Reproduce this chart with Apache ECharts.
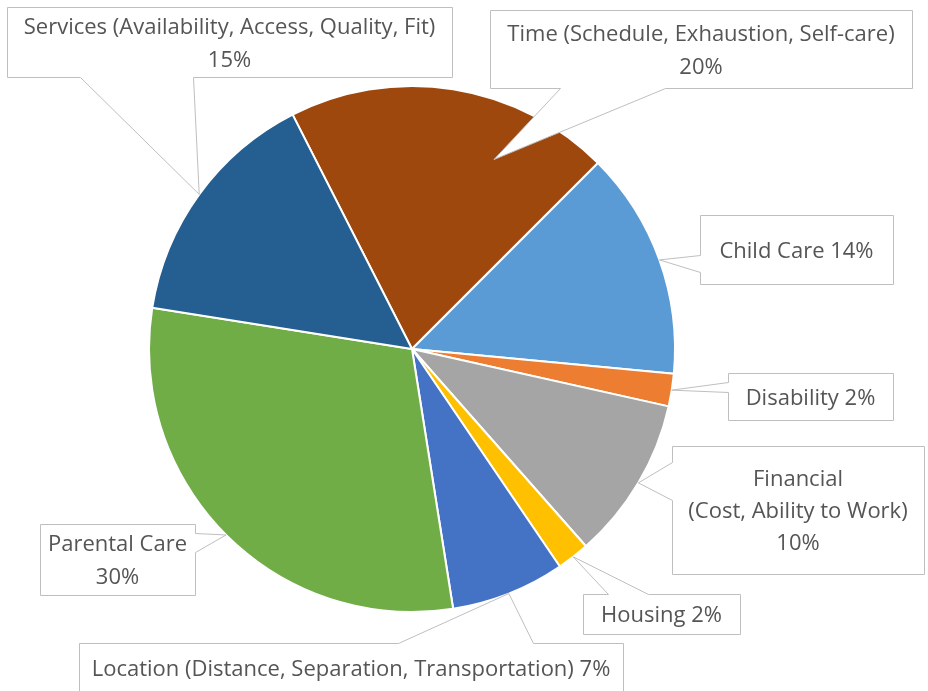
<!DOCTYPE html>
<html>
<head>
<meta charset="utf-8">
<script src="https://cdn.jsdelivr.net/npm/echarts@6/dist/echarts.min.js"></script>
<style>
  html, body { margin: 0; padding: 0; background: #ffffff; }
  #chart { width: 928px; height: 691px; }
</style>
</head>
<body>
<div id="chart"></div>
<script>
// Barriers reported, clockwise from the top of the pie
const categories = [
  'Time (Schedule, Exhaustion, Self-care)',
  'Child Care',
  'Disability',
  'Financial (Cost, Ability to Work)',
  'Housing',
  'Location (Distance, Separation, Transportation)',
  'Parental Care',
  'Services (Availability, Access, Quality, Fit)'
];
// Share of responses, percent
const shares = [20, 14, 2, 10, 2, 7, 30, 15];
const sliceColors = ['#9E480E', '#5B9BD5', '#ED7D31', '#A5A5A5', '#FFC000', '#4472C4', '#70AD47', '#255E91'];

// Callout layout: box [left, top, right, bottom], side that carries the pointer,
// pointer base span along that side, and where the tip sits inside the slice
// (fraction of the slice's sweep, fraction of the radius).
const callouts = [
  { box: [490, 10, 912, 88],   side: 'bottom', base: [560, 665], along: 0.70, depth: 0.785, fmt: 'stack',  lh: 33 },
  { box: [700, 215, 893, 284], side: 'left',   base: [255, 272], along: 0.5,  depth: 1,     fmt: 'inline', lh: 33 },
  { box: [728, 373, 893, 420], side: 'left',   base: [382, 392], along: 0.5,  depth: 1,     fmt: 'inline', lh: 33 },
  { box: [672, 446, 924, 574], side: 'left',   base: [462, 500], along: 0.5,  depth: 1,     fmt: 'split',  lh: 32 },
  { box: [583, 594, 740, 634], side: 'top',    base: [608, 648], along: 0.5,  depth: 1,     fmt: 'inline', lh: 33 },
  { box: [79, 643, 623, 693],  side: 'top',    base: [398, 533], along: 0.5,  depth: 1,     fmt: 'inline', lh: 33 },
  { box: [40, 524, 195, 595],  side: 'right',  base: [533, 552], along: 0.5,  depth: 1,     fmt: 'stack',  lh: 33 },
  { box: [7, 7, 452, 77],      side: 'bottom', base: [80, 193],  along: 0.5,  depth: 1,     fmt: 'stack',  lh: 33 }
];

const PIE_CENTER = [412, 349];
const PIE_RADIUS = 263;
const START_ANGLE = 117;
const FONT = '22px "Open Sans", "Noto Sans", sans-serif';
const TEXT_COLOR = '#555555';
const BOX_STROKE = '#BFBFBF';

const chart = echarts.init(document.getElementById('chart'), null, { renderer: 'canvas' });

chart.setOption({
  backgroundColor: '#ffffff',
  animation: false,
  series: [{
    type: 'pie',
    center: PIE_CENTER,
    radius: PIE_RADIUS,
    startAngle: START_ANGLE,
    clockwise: true,
    silent: true,
    label: { show: false },
    labelLine: { show: false },
    emphasis: { disabled: true },
    itemStyle: { borderColor: '#ffffff', borderWidth: 2 },
    data: categories.map((name, i) => ({
      name: name,
      value: shares[i],
      itemStyle: { color: sliceColors[i] }
    }))
  }]
});

// Sector geometry as laid out by the pie series
function sectorLayout(i) {
  try {
    const data = chart.getModel().getSeriesByIndex(0).getData();
    const l = data.getItemLayout(i);
    if (l && isFinite(l.startAngle)) return l;
  } catch (e) { /* fall through */ }
  const total = shares.reduce((a, b) => a + b, 0);
  let a = -START_ANGLE * Math.PI / 180;
  for (let k = 0; k < i; k++) a += shares[k] / total * Math.PI * 2;
  return {
    cx: PIE_CENTER[0], cy: PIE_CENTER[1], r: PIE_RADIUS,
    startAngle: a, endAngle: a + shares[i] / total * Math.PI * 2
  };
}

function tipPoint(i, along, depth) {
  const l = sectorLayout(i);
  const ang = l.startAngle + (l.endAngle - l.startAngle) * along;
  const r = l.r * depth;
  return [l.cx + r * Math.cos(ang), l.cy + r * Math.sin(ang)];
}

function labelText(i, fmt) {
  const v = shares[i] + '%';
  const name = categories[i];
  if (fmt === 'inline') return name + ' ' + v;
  if (fmt === 'split') return name.replace(' (', '\n(') + '\n' + v;
  return name + '\n' + v;
}

// Rectangle outline with a wedge pointer inserted on one side
function calloutPoints(c, tip) {
  const [x0, y0, x1, y1] = c.box.map(v => v + 0.5);
  const [a, b] = c.base.map(v => v + 0.5);
  const pts = [[x0, y0]];
  if (c.side === 'top') pts.push([a, y0], tip, [b, y0]);
  pts.push([x1, y0]);
  if (c.side === 'right') pts.push([x1, a], tip, [x1, b]);
  pts.push([x1, y1]);
  if (c.side === 'bottom') pts.push([b, y1], tip, [a, y1]);
  pts.push([x0, y1]);
  if (c.side === 'left') pts.push([x0, b], tip, [x0, a]);
  return pts;
}

const graphics = [];
callouts.forEach((c, i) => {
  const tip = tipPoint(i, c.along, c.depth);
  graphics.push({
    type: 'polygon',
    z: 10,
    silent: true,
    shape: { points: calloutPoints(c, tip) },
    style: { fill: '#ffffff', stroke: BOX_STROKE, lineWidth: 1 }
  });
  graphics.push({
    type: 'text',
    z: 11,
    silent: true,
    x: (c.box[0] + c.box[2]) / 2,
    y: (c.box[1] + c.box[3]) / 2 + 2,
    style: {
      text: labelText(i, c.fmt),
      font: FONT,
      fill: TEXT_COLOR,
      align: 'center',
      verticalAlign: 'middle',
      lineHeight: c.lh
    }
  });
});

chart.setOption({ graphic: graphics });
</script>
</body>
</html>
